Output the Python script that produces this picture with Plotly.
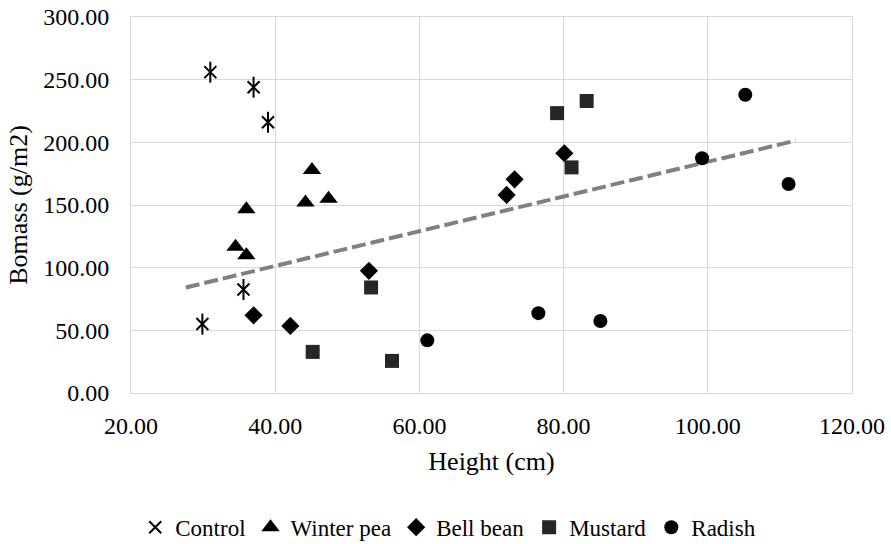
import plotly.graph_objects as go

# Data
control_x = [31.0, 37.0, 39.0, 35.6, 29.9]
control_y = [256.0, 244.0, 216.0, 82.6, 55.0]
pea_x = [45.1, 44.2, 47.4, 36.0, 34.5, 36.0]
pea_y = [178.0, 152.0, 155.0, 146.6, 116.7, 110.0]
bean_x = [37.0, 42.1, 53.0, 72.1, 73.2, 80.1]
bean_y = [62.0, 53.5, 97.5, 158.0, 170.5, 191.3]
mustard_x = [53.3, 45.2, 56.2, 79.1, 83.2, 81.1]
mustard_y = [84.2, 32.8, 25.6, 223.3, 233.0, 180.0]
radish_x = [61.1, 76.5, 85.1, 105.2, 99.2, 111.2]
radish_y = [42.0, 63.7, 57.5, 238.0, 187.3, 166.8]
trend_x = [27.6, 112.2]
trend_y = [84.2, 201.4]

FONT = "'Liberation Serif', 'Times New Roman', Times, serif"
GRID = "#d9d9d9"

fig = go.Figure()

fig.add_trace(go.Scatter(
    x=trend_x, y=trend_y, mode="lines", showlegend=False, hoverinfo="skip",
    line=dict(color="#808080", width=4, dash="14px,5px")))

fig.add_trace(go.Scatter(
    x=control_x, y=control_y, mode="markers", name="Control",
    marker=dict(symbol="x-thin-open", size=12, color="black",
                line=dict(color="black", width=2))))
fig.add_trace(go.Scatter(
    x=control_x, y=control_y, mode="markers", name="Control", showlegend=False,
    marker=dict(symbol="line-ns-open", size=15, color="black",
                line=dict(color="black", width=2))))
fig.add_trace(go.Scatter(
    x=pea_x, y=pea_y, mode="markers", name="Winter pea",
    marker=dict(symbol="triangle-up", size=16, color="black")))
fig.add_trace(go.Scatter(
    x=bean_x, y=bean_y, mode="markers", name="Bell bean",
    marker=dict(symbol="diamond", size=14, color="black")))
fig.add_trace(go.Scatter(
    x=mustard_x, y=mustard_y, mode="markers", name="Mustard",
    marker=dict(symbol="square", size=14, color="#262626")))
fig.add_trace(go.Scatter(
    x=radish_x, y=radish_y, mode="markers", name="Radish",
    marker=dict(symbol="circle", size=14, color="black")))

fig.update_layout(
    width=891, height=544,
    margin=dict(l=131, r=39, t=17, b=151, autoexpand=False),
    paper_bgcolor="white", plot_bgcolor="white",
    font=dict(family=FONT, size=24, color="black"),
    legend=dict(orientation="h", x=0.44, xanchor="center", y=-0.357,
                yanchor="middle", font=dict(family=FONT, size=23),
                itemwidth=30, tracegroupgap=0),
)
fig.update_xaxes(
    range=[20, 120], dtick=20, tick0=20, tickformat=".2f",
    showgrid=True, gridcolor=GRID, gridwidth=1, zeroline=False,
    showline=True, linecolor=GRID, mirror=True,
    ticks="", ticklabelstandoff=11, ticklabeloverflow="allow",
    tickfont=dict(family=FONT, size=24),
    title=dict(text="Height (cm)", font=dict(family=FONT, size=26), standoff=14))
fig.update_yaxes(
    range=[0, 300], dtick=50, tick0=0, tickformat=".2f",
    showgrid=True, gridcolor=GRID, gridwidth=1, zeroline=False,
    showline=True, linecolor=GRID, mirror=True,
    ticks="", ticklabelstandoff=16, ticklabeloverflow="allow",
    tickfont=dict(family=FONT, size=24),
    title=dict(text="Bomass (g/m2)", font=dict(family=FONT, size=26), standoff=8))

# remove the page's default 8px body margin so the figure sits at (0, 0)
fig.write_html("out.html", config={"displayModeBar": False},
               post_script="document.body.style.margin='0px';")
